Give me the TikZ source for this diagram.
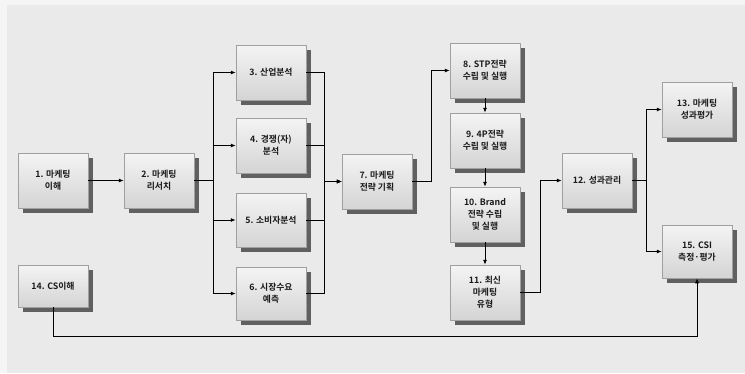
\documentclass[tikz,border=0pt]{standalone}
\usepackage{fontspec}
\setmainfont{Noto Sans CJK KR}[BoldFont={Noto Sans CJK KR Bold}]
\usetikzlibrary{arrows.meta,shadows}
\definecolor{bgout}{HTML}{F5F5F5}
\definecolor{bgin}{HTML}{EAEAEA}
\definecolor{boxtop}{HTML}{F4F4F4}
\definecolor{boxbot}{HTML}{D4D4D4}
\definecolor{boxline}{HTML}{A0A0A0}
\definecolor{shade}{HTML}{606060}
\definecolor{txt}{HTML}{1A1A1A}
\tikzset{
  stepbox/.style={draw=boxline, line width=0.5pt, top color=boxtop, bottom color=boxbot,
    minimum width=70pt, minimum height=55pt, inner sep=1pt, align=center,
    font=\fontsize{8.8}{12}\selectfont\bfseries, text=txt,
    drop shadow={shadow xshift=5pt, shadow yshift=-5pt, fill=shade, opacity=1}},
  arr/.style={draw=black, line width=0.8pt, -{Latex[length=5pt,width=4pt]}},
}
\begin{document}
\begin{tikzpicture}[x=1pt,y=-1pt]
\useasboundingbox (0,0) rectangle (745,373);
\fill[bgout] (0,0) rectangle (745,373);
\fill[bgin] (7,5) rectangle (745,373);
\node[stepbox] (b1) at (53,180.5) {1. 마케팅\\이해};
\node[stepbox] (b2) at (159,180.5) {2. 마케팅\\리서치};
\node[stepbox, minimum height=42pt] (b14) at (53,286) {14. CS이해};
\node[stepbox] (b3) at (271,72.5) {3. 산업분석};
\node[stepbox] (b4) at (271,145.5) {4. 경쟁(자)\\분석};
\node[stepbox, minimum height=54pt] (b5) at (271,220) {5. 소비자분석};
\node[stepbox, minimum height=53pt] (b6) at (271,293.5) {6. 시장수요\\예측};
\node[stepbox] (b7) at (377,181.5) {7. 마케팅\\전략 기획};
\node[stepbox] (b8) at (485,70.5) {8. STP전략\\수립 및 실행};
\node[stepbox] (b9) at (485,140.5) {9. 4P전략\\수립 및 실행};
\node[stepbox] (b10) at (485,214.5) {10. Brand\\전략 수립\\및 실행};
\node[stepbox] (b11) at (485,292.5) {11. 최신\\마케팅\\유형};
\node[stepbox] (b12) at (597,180.5) {12. 성과관리};
\node[stepbox] (b13) at (697,109.5) {13. 마케팅\\성과평가};
\node[stepbox, minimum height=53pt] (b15) at (697,251.5) {15. CSI\\측정·평가};
% connectors
\draw[arr] (b1.east) -- (b2.west);
\foreach \t in {b3,b4,b5,b6} {
  \draw[arr] (b2.east) -- ++(19,0) |- (\t.west);
  \draw[arr] (\t.east) -- ++(18,0) |- (b7.west);
}
\draw[arr] (b7.east) -- ++(19,0) |- (b8.west);
\draw[arr] (b8.south) -- (b9.north);
\draw[arr] (b9.south) -- (b10.north);
\draw[arr] (b10.south) -- (b11.north);
\draw[arr] (b11.east) -- ++(20,0) |- (b12.west);
\draw[arr] (b12.east) -- ++(14,0) |- (b13.west);
\draw[arr] (b12.east) -- ++(14,0) |- (b15.west);
\draw[arr] (b14.south) -- ++(0,29) -| (b15.south);
\end{tikzpicture}
\end{document}
